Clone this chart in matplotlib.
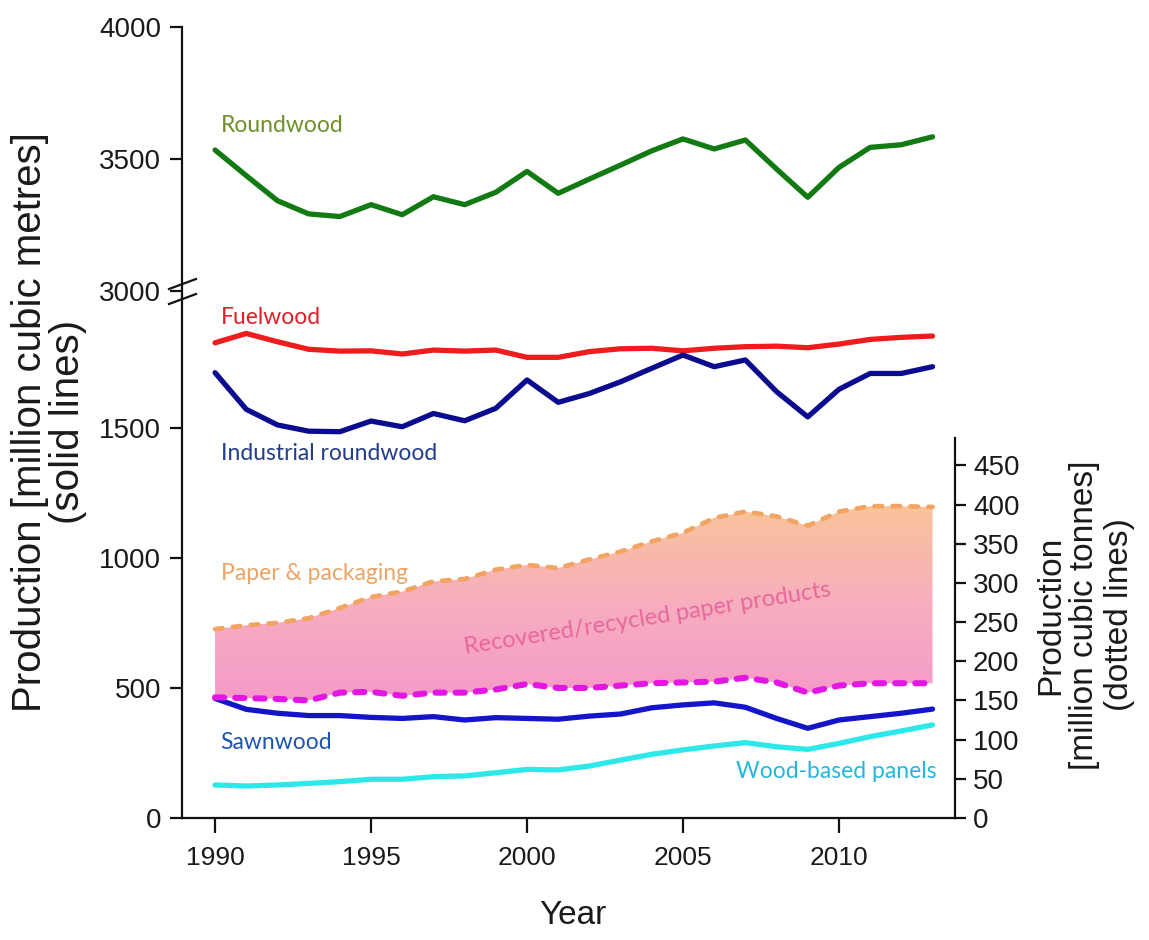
import numpy as np
import matplotlib
matplotlib.use("Agg")
import matplotlib.pyplot as plt
from matplotlib.colors import LinearSegmentedColormap
from matplotlib.lines import Line2D

# ---- data (million m3 on the left scale, million tonnes on the right) ----
years = [1990, 1991, 1992, 1993, 1994, 1995, 1996, 1997, 1998, 1999, 2000, 2001,
         2002, 2003, 2004, 2005, 2006, 2007, 2008, 2009, 2010, 2011, 2012, 2013]

roundwood = [3534, 3437, 3342, 3292, 3282, 3327, 3289, 3357, 3327, 3374, 3453, 3370,
             3424, 3477, 3531, 3576, 3538, 3572, 3462, 3355, 3468, 3544, 3554, 3584]
fuelwood = [1828, 1864, 1832, 1803, 1796, 1797, 1785, 1800, 1796, 1800, 1772, 1772,
            1794, 1805, 1807, 1797, 1807, 1813, 1815, 1809, 1823, 1841, 1849, 1854]
industrial_roundwood = [1713, 1572, 1512, 1488, 1486, 1527, 1505, 1556, 1528, 1576, 1685, 1599,
                        1633, 1678, 1730, 1781, 1736, 1762, 1640, 1543, 1649, 1710, 1710, 1736]
sawnwood = [460, 418, 403, 394, 394, 387, 383, 390, 377, 386, 383, 380,
            392, 400, 424, 435, 443, 426, 383, 345, 377, 390, 403, 419]
wood_based_panels = [127, 123, 127, 133, 140, 149, 149, 159, 162, 174, 187, 185,
                     200, 223, 245, 262, 277, 290, 274, 264, 287, 313, 335, 358]
paper_packaging = [241, 246, 249, 255, 268, 282, 289, 302, 305, 317, 323, 319,
                   330, 340, 353, 364, 383, 391, 385, 373, 391, 398, 398, 397]
wood_pulp = [154, 153, 152, 150, 160, 161, 156, 160, 160, 164, 171, 166,
             166, 169, 172, 173, 174, 179, 173, 160, 169, 172, 172, 172]

left_ticks_upper = [3000, 3500, 4000]
left_ticks_lower = [0, 500, 1000, 1500]
right_ticks = [0, 50, 100, 150, 200, 250, 300, 350, 400, 450]
year_ticks = [1990, 1995, 2000, 2005, 2010]

# ---- figure layout (pixel based) ----
W, H = 1149, 940
fig = plt.figure(figsize=(W / 100, H / 100), dpi=100)


def rect(l, t, r, b):
    return [l / W, 1 - b / H, (r - l) / W, (b - t) / H]


AX_L, AX_R = 182, 955
XLIM = (1988.94, 2013.72)
TICK_FONT = "Liberation Sans"
LABEL_FONT = "Lato"
TXT = "#1a1a1a"

ax_top = fig.add_axes(rect(AX_L, 27, AX_R, 296))
ax_bot = fig.add_axes(rect(AX_L, 296, AX_R, 818))
ax_rt = fig.add_axes(rect(AX_L, 438, AX_R, 818))

for ax in (ax_top, ax_bot, ax_rt):
    ax.set_xlim(*XLIM)
    ax.patch.set_visible(False)
    for s in ax.spines.values():
        s.set_linewidth(1.6)
        s.set_color("#111111")
    ax.tick_params(direction="out", length=9, width=1.6, color="#111111",
                   labelsize=20, pad=6, labelcolor=TXT)

# upper panel (broken axis, 3000-4000)
ax_top.set_ylim(2981, 4000)
ax_top.set_yticks(left_ticks_upper)
ax_top.set_xticks([])
for side in ("top", "right", "bottom"):
    ax_top.spines[side].set_visible(False)

# lower panel (0-2000)
ax_bot.set_ylim(0, 2008)
ax_bot.set_yticks(left_ticks_lower)
ax_bot.set_xticks(year_ticks)
ax_bot.tick_params(axis="x", length=11, pad=9, labelsize=19)
for side in ("top", "right"):
    ax_bot.spines[side].set_visible(False)

# right scale for the paper products
ax_rt.set_ylim(0, 485)
ax_rt.set_yticks(right_ticks)
ax_rt.set_xticks([])
ax_rt.yaxis.tick_right()
ax_rt.tick_params(axis="y", length=8, pad=5)
for side in ("top", "left", "bottom"):
    ax_rt.spines[side].set_visible(False)

for ax in (ax_top, ax_bot, ax_rt):
    for lab in ax.get_xticklabels() + ax.get_yticklabels():
        lab.set_fontfamily(TICK_FONT)

# ---- solid lines ----
line_kw = dict(lw=3.8, solid_joinstyle="round", solid_capstyle="round")
ax_top.plot(years, roundwood, color="#127a12", **line_kw)
ax_bot.plot(years, fuelwood, color="#ee1c1c", **line_kw)
ax_bot.plot(years, industrial_roundwood, color="#0b0b8f", **line_kw)
ax_bot.plot(years, sawnwood, color="#1414c8", **line_kw)
ax_bot.plot(years, wood_based_panels, color="#2ce8e8", **line_kw)

# ---- gradient band between wood pulp and paper & packaging ----
band = ax_rt.fill_between(years, wood_pulp, paper_packaging, facecolor="none",
                          edgecolor="none")
grad_cmap = LinearSegmentedColormap.from_list(
    "band", ["#f59ac8", "#f7aebf", "#f9c498"])
y_lo, y_hi = min(wood_pulp), max(paper_packaging)
grad = np.linspace(0, 1, 256).reshape(-1, 1)
img = ax_rt.imshow(grad, cmap=grad_cmap, aspect="auto", origin="lower",
                   extent=[years[0], years[-1], y_lo, y_hi], zorder=1,
                   interpolation="bilinear")
img.set_clip_path(band.get_paths()[0], transform=ax_rt.transData)
ax_rt.set_xlim(*XLIM)
ax_rt.set_ylim(0, 485)

ax_rt.plot(years, paper_packaging, color="#f2a463", lw=3.4,
           linestyle=(0, (1.6, 2.2)), dash_capstyle="round", zorder=3)
ax_rt.plot(years, wood_pulp, color="#e317e3", lw=4.4,
           linestyle=(0, (1.5, 1.8)), dash_capstyle="round", zorder=3)

# ---- series labels ----
lab_kw = dict(fontfamily=LABEL_FONT, fontsize=16.5, va="center")
ax_top.text(1990.19, 3625, "Roundwood", color="#6f8f2a", **lab_kw)
ax_bot.text(1990.19, 1927, "Fuelwood", color="#e41e26", **lab_kw)
ax_bot.text(1990.19, 1404, "Industrial roundwood", color="#233c8c", **lab_kw)
ax_bot.text(1990.19, 942, "Paper & packaging", color="#eba467", **lab_kw)
ax_bot.text(1990.0, 546, "Wood pulp", color="#e21fe0", **lab_kw)
ax_bot.text(1990.16, 292, "Sawnwood", color="#1d55b4", **lab_kw)
ax_bot.text(2013.14, 177, "Wood-based panels", color="#22b8dc", ha="right", **lab_kw)
ax_rt.text(2003.85, 255, "Recovered/recycled paper products", color="#e8689c",
           rotation=9, ha="center", va="center", rotation_mode="anchor",
           fontfamily=LABEL_FONT, fontsize=17, zorder=4)

# ---- axis titles ----
fig.text(49 / W, 1 - 422 / H, "Production [million cubic metres]\n(solid lines)",
         rotation=90, ha="center", va="center", multialignment="center",
         fontfamily=TICK_FONT, fontsize=29, color=TXT, linespacing=1.0)
fig.text(1085 / W, 1 - 615 / H, "Production\n[million cubic tonnes]\n(dotted lines)",
         rotation=90, ha="center", va="center", multialignment="center",
         fontfamily=TICK_FONT, fontsize=24, color=TXT, linespacing=1.15)
fig.text(573 / W, 1 - 915 / H, "Year", ha="center", va="center",
         fontfamily=TICK_FONT, fontsize=24, color=TXT)

# ---- axis break marks ----
for y0 in (289, 304):
    fig.add_artist(Line2D([169 / W, 196 / W], [1 - y0 / H, 1 - (y0 - 10) / H],
                          transform=fig.transFigure, color="#111111", lw=1.6))

fig.savefig("out.png", dpi=100, facecolor="white")
